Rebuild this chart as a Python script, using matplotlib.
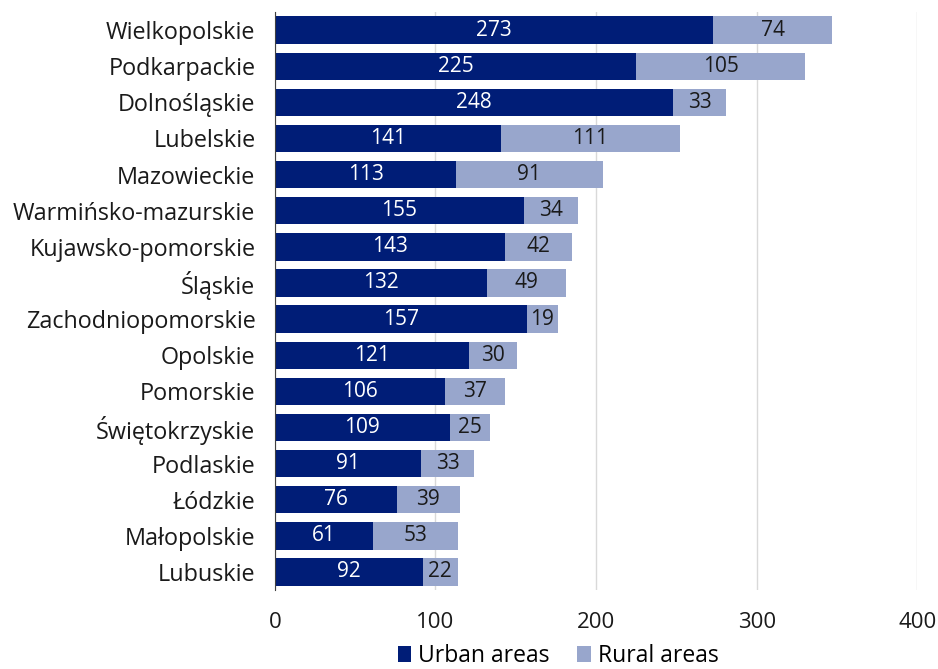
import matplotlib.pyplot as plt
import numpy as np

regions = ["Wielkopolskie", "Podkarpackie", "Dolnośląskie", "Lubelskie", "Mazowieckie",
           "Warmińsko-mazurskie", "Kujawsko-pomorskie", "Śląskie", "Zachodniopomorskie",
           "Opolskie", "Pomorskie", "Świętokrzyskie", "Podlaskie", "Łódzkie",
           "Małopolskie", "Lubuskie"]
urban = [273, 225, 248, 141, 113, 155, 143, 132, 157, 121, 106, 109, 91, 76, 61, 92]
rural = [74, 105, 33, 111, 91, 34, 42, 49, 19, 30, 37, 25, 33, 39, 53, 22]

dark = "#001d77"
light = "#98a6cc"

plt.rcParams['font.family'] = ['Open Sans', 'DejaVu Sans']

fig = plt.figure(figsize=(9.38, 6.69), dpi=100)
ax = fig.add_axes([0.293, 0.118, 0.685, 0.864])

y = np.arange(len(regions))
b1 = ax.barh(y, urban, height=0.76, color=dark, label="Urban areas", zorder=3)
b2 = ax.barh(y, rural, left=urban, height=0.76, color=light, label="Rural areas", zorder=3)

for i in range(len(regions)):
    ax.text(urban[i] / 2, y[i], str(urban[i]), ha='center', va='center',
            color='white', fontsize=15, zorder=4)
    ax.text(urban[i] + rural[i] / 2, y[i], str(rural[i]), ha='center', va='center',
            color='#1a1a1a', fontsize=15, zorder=4)

ax.set_yticks(y)
ax.set_yticklabels(regions, fontsize=16.8, color='#1a1a1a')
ax.set_ylim(len(regions) - 0.5, -0.5)
ax.set_xlim(0, 400)
ax.set_xticks([0, 100, 200, 300, 400])
ax.tick_params(axis='x', labelsize=16, colors='#1a1a1a', length=0, pad=16)
ax.tick_params(axis='y', length=0, pad=14)
ax.grid(axis='x', color='#d9d9d9', linewidth=1, zorder=0)
for s in ['top', 'right', 'bottom']:
    ax.spines[s].set_visible(False)
ax.spines['left'].set_color('#404040')
ax.spines['left'].set_zorder(5)

fig.legend(handles=[b1, b2], loc='lower center', bbox_to_anchor=(0.595, -0.03), ncol=2,
           frameon=False, fontsize=16.5, handlelength=0.6, handleheight=0.7,
           handletextpad=0.3, columnspacing=1.2)

fig.savefig("out.png", dpi=100)
